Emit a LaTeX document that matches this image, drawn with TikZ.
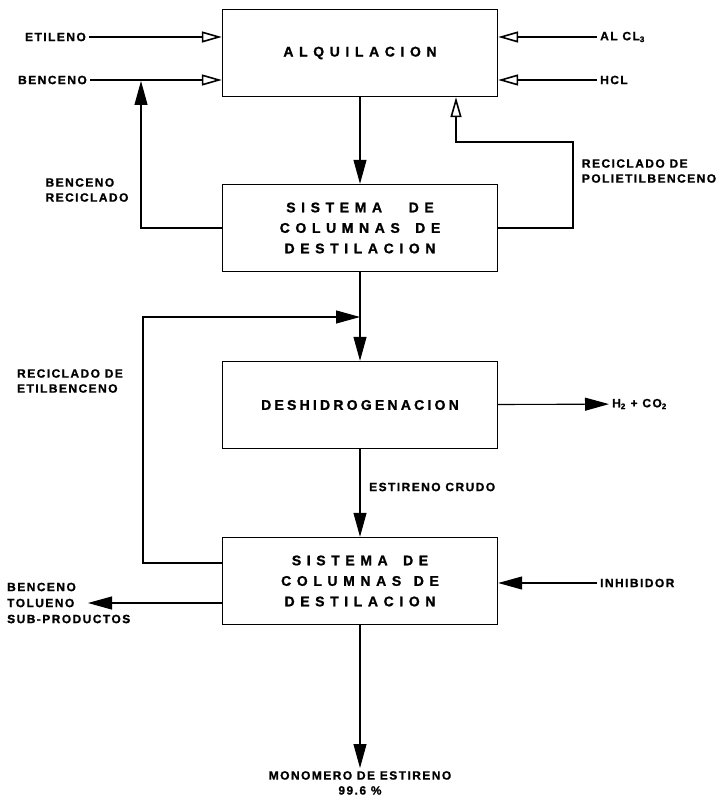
\documentclass[tikz,border=0pt]{standalone}
\usepackage{fontspec}
\setmainfont{Liberation Sans}
\usetikzlibrary{arrows.meta}
\newfontfamily\boxfont[LetterSpace=40,BoldFeatures={FakeBold=1.2}]{Liberation Sans}
\newfontfamily\narrowboxfont[LetterSpace=23,BoldFeatures={FakeBold=1.2}]{Liberation Sans}
\newfontfamily\lblfont[LetterSpace=12,BoldFeatures={FakeBold=1}]{Liberation Sans}

\begin{document}
\begin{tikzpicture}[x=1pt,y=-1pt,
    box/.style={draw,line width=1.4pt,minimum width=275pt,minimum height=87pt,
      align=center,font=\boxfont\bfseries\fontsize{14}{20.5}\selectfont},
    lbl/.style={font=\lblfont\bfseries\fontsize{12}{15}\selectfont,inner sep=3pt},
    flow/.style={line width=1.1pt,-{Triangle[length=24pt,width=13pt]}},
    inflow/.style={line width=1.1pt,-{Triangle[open,length=20pt,width=11pt,line width=1.6pt]}}]
    \useasboundingbox (0,0) rectangle (720,802);
    % process blocks
    \node[box] (alq) at (360,53) {ALQUILACION};
    \node[box] (dest1) at (360,228) {SISTEMA\hspace{1.9em}DE\\COLUMNAS\hspace{1.1em}DE\\DESTILACION};
    \node[box,font=\narrowboxfont\bfseries\fontsize{14}{20.5}\selectfont] (deshid) at (360,405) {DESHIDROGENACION};
    \node[box] (dest2) at (360,581) {SISTEMA\hspace{1.1em}DE\\COLUMNAS\hspace{0.9em}DE\\DESTILACION};
    % feeds and products
    \node[lbl,anchor=east] (etileno) at (89,37) {ETILENO};
    \node[lbl,anchor=east] (benceno) at (90,80) {BENCENO};
    \node[lbl,anchor=west] (alcl) at (597,37) {AL CL\textsubscript{3}};
    \node[lbl,anchor=west] (hcl) at (597,80) {HCL};
    \node[lbl,anchor=west] (hco) at (609,404) {H\textsubscript{2} + CO\textsubscript{2}};
    \node[lbl,anchor=west] (inhib) at (597,583) {INHIBIDOR};
    \node[lbl,anchor=west,align=left] (subp) at (4,603) {BENCENO\\[1pt]TOLUENO\\[1pt]SUB-PRODUCTOS};
    \node[lbl,anchor=north,align=center] (mono) at (360,768) {MONOMERO DE ESTIRENO\\99.6 \%};
    % stream labels
    \node[lbl,align=left] (brec) at (87,190) {BENCENO\\RECICLADO};
    \node[lbl,align=left] (prec) at (649,171) {RECICLADO DE\\POLIETILBENCENO};
    \node[lbl,align=left] (erec) at (70,381) {RECICLADO DE\\ETILBENCENO};
    \node[lbl,anchor=west] (crudo) at (366,487) {ESTIRENO CRUDO};
    % turning points
    \coordinate (bjoin) at (141,81);
    \coordinate (pcorner) at (573,142);
    \coordinate (ecorner) at (143,317);
    \coordinate (subtip) at (88,603);
    % inputs
    \draw[inflow] (etileno) -- (etileno -| alq.west);
    \draw[inflow] (benceno) -- (benceno -| alq.west);
    \draw[inflow] (alcl) -- (alcl -| alq.east);
    \draw[inflow] (hcl) -- (hcl -| alq.east);
    % main line
    \draw[flow] (alq) -- (dest1);
    \draw[flow] (dest1) -- (deshid);
    \draw[flow] (deshid) -- (dest2);
    \draw[flow] (dest2) -- (mono);
    \draw[flow] (deshid) -- (hco);
    \draw[flow] (inhib) -- (inhib -| dest2.east);
    \draw[flow] (dest2.west |- subtip) -- (subtip);
    % recycles
    \draw[flow] (dest1.west) -| (bjoin);
    \draw[inflow] (dest1.east) -| (pcorner) -| ([xshift=96pt]alq.south);
    \draw[flow] ([yshift=18pt]dest2.west) -| (ecorner) -- (ecorner -| dest1.south);
  \end{tikzpicture}
\end{document}
